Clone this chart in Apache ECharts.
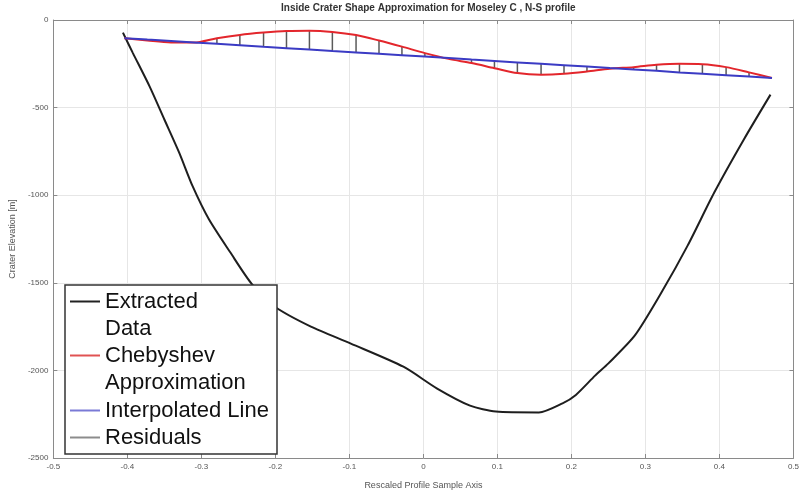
<!DOCTYPE html>
<html>
<head>
<meta charset="utf-8">
<script src="https://cdn.jsdelivr.net/npm/echarts@6/dist/echarts.min.js"></script>
<style>
  html, body { margin: 0; padding: 0; background: #fff; }
</style>
</head>
<body>
<div id="craterChart" style="width:802px;height:495px;"></div>
<script>
  // extracted crater profile (black)
  var profileX = [-0.406, -0.3925, -0.370, -0.350, -0.330, -0.312, -0.290, -0.261, -0.232, -0.200,
    -0.152, -0.098, -0.027, 0.018, 0.063, 0.098, 0.156, 0.188, 0.206, 0.232,
    0.250, 0.286, 0.322, 0.357, 0.393, 0.433, 0.469];
  var profileY = [-72, -189, -379, -568, -757, -947, -1136, -1326, -1506, -1638,
    -1750, -1847, -1979, -2102, -2201, -2235, -2240, -2188, -2140, -2030,
    -1960, -1799, -1553, -1288, -985, -682, -426];

  // sample positions of the approximation / residuals
  var sampleX = [-0.404, -0.373, -0.341, -0.310, -0.279, -0.248, -0.216, -0.185, -0.154, -0.123,
    -0.091, -0.060, -0.029, 0.002, 0.034, 0.065, 0.096, 0.127, 0.159, 0.190,
    0.221, 0.252, 0.284, 0.315, 0.346, 0.377, 0.409, 0.440, 0.471];
  var chebyshevY = [-104, -117, -128, -129, -104, -85, -72, -63, -61, -68,
    -86, -117, -152, -189, -222, -246, -275, -303, -312, -307,
    -294, -278, -269, -256, -250, -252, -269, -299, -331];
  var interpolatedY = [-104, -112, -120, -128, -136, -144, -153, -161, -169, -177,
    -185, -193, -201, -209, -217, -226, -234, -242, -250, -258,
    -266, -274, -282, -290, -299, -307, -315, -323, -331];

  var legendLabels = {
    'Extracted Data': 'Extracted\nData',
    'Chebyshev Approximation': 'Chebyshev\nApproximation'
  };

  var profileData = profileX.map(function (x, i) { return [x, profileY[i]]; });
  var chebData = sampleX.map(function (x, i) { return [x, chebyshevY[i]]; });
  var interpData = sampleX.map(function (x, i) { return [x, interpolatedY[i]]; });
  // vertical stems between the line and the approximation, broken by empty points
  var residualData = [];
  sampleX.forEach(function (x, i) {
    residualData.push([x, interpolatedY[i]], [x, chebyshevY[i]], [x, '-']);
  });

  var craterChart = echarts.init(document.getElementById('craterChart'));
  var axisGray = '#8a8a8a';
  var labelGray = '#555';
  var legendText = { fontFamily: 'Liberation Sans', fontSize: 22, lineHeight: 27, color: '#111' };

  var option = {
    animation: false,
    backgroundColor: '#fff',
    title: {
      text: 'Inside Crater Shape Approximation for Moseley C , N-S profile',
      left: 281,
      top: 0,
      padding: [3, 0, 0, 0],
      textStyle: { fontFamily: 'Liberation Sans', fontSize: 10, fontWeight: 'bold', color: '#333' }
    },
    grid: { left: 53, right: 2, top: 20, bottom: 35 },
    legend: [{
      // two-line entries: an empty first line keeps the icon on the first text line
      orient: 'vertical',
      left: 70,
      top: 261,
      padding: 0,
      itemGap: -27,
      itemWidth: 30,
      itemHeight: 2,
      icon: 'rect',
      z: 10,
      textStyle: legendText,
      formatter: function (name) { return '\n' + legendLabels[name]; },
      data: [
        { name: 'Extracted Data', itemStyle: { color: '#222' } },
        { name: 'Chebyshev Approximation', itemStyle: { color: '#e05252' } }
      ]
    }, {
      orient: 'vertical',
      left: 70,
      top: 397,
      padding: 0,
      itemGap: 0,
      itemWidth: 30,
      itemHeight: 2,
      icon: 'rect',
      z: 10,
      textStyle: legendText,
      data: [
        { name: 'Interpolated Line', itemStyle: { color: '#7a7ad6' } },
        { name: 'Residuals', itemStyle: { color: '#8c8c8c' } }
      ]
    }],
    graphic: [{
      type: 'rect',
      z: 5,
      shape: { x: 65, y: 285, width: 212, height: 169 },
      style: { fill: '#fff', stroke: '#333', lineWidth: 1.5 }
    }],
    xAxis: [{
      type: 'value',
      min: -0.5,
      max: 0.5,
      interval: 0.1,
      position: 'bottom',
      name: 'Rescaled Profile Sample Axis',
      nameLocation: 'middle',
      nameGap: 23,
      nameTextStyle: { fontFamily: 'Liberation Sans', fontSize: 9, color: labelGray },
      axisLine: { onZero: false, lineStyle: { color: axisGray } },
      axisTick: { inside: true, length: 4, lineStyle: { color: axisGray } },
      axisLabel: {
        fontFamily: 'Liberation Sans', fontSize: 8, color: labelGray, margin: 5,
        formatter: function (v) { return String(Math.round(v * 10) / 10); }
      },
      splitLine: { show: true, lineStyle: { color: '#e6e6e6' } }
    }, {
      type: 'value',
      min: -0.5,
      max: 0.5,
      interval: 0.1,
      position: 'top',
      axisLine: { onZero: false, lineStyle: { color: axisGray } },
      axisTick: { inside: true, length: 4, lineStyle: { color: axisGray } },
      axisLabel: { show: false },
      splitLine: { show: false }
    }],
    yAxis: [{
      type: 'value',
      min: -2500,
      max: 0,
      interval: 500,
      position: 'left',
      name: 'Crater Elevation [m]',
      nameLocation: 'middle',
      nameGap: 27,
      nameTextStyle: { fontFamily: 'Liberation Sans', fontSize: 9, color: labelGray },
      axisLine: { show: true, onZero: false, lineStyle: { color: axisGray } },
      axisTick: { show: true, inside: true, length: 4, lineStyle: { color: axisGray } },
      axisLabel: {
        fontFamily: 'Liberation Sans', fontSize: 8, color: labelGray, margin: 5,
        formatter: function (v) { return String(v); }
      },
      splitLine: { show: true, lineStyle: { color: '#e6e6e6' } }
    }, {
      type: 'value',
      min: -2500,
      max: 0,
      interval: 500,
      position: 'right',
      axisLine: { show: true, onZero: false, lineStyle: { color: axisGray } },
      axisTick: { show: true, inside: true, length: 4, lineStyle: { color: axisGray } },
      axisLabel: { show: false },
      splitLine: { show: false }
    }],
    series: [{
      name: 'Extracted Data',
      type: 'line',
      data: profileData,
      symbol: 'none',
      smooth: 0.25,
      color: '#1e1e1e',
      lineStyle: { width: 2, color: '#1e1e1e' },
      z: 2
    }, {
      name: 'Residuals',
      type: 'line',
      data: residualData,
      symbol: 'none',
      connectNulls: false,
      color: '#5a5a5a',
      lineStyle: { width: 1.5, color: '#5a5a5a' },
      z: 2
    }, {
      name: 'Chebyshev Approximation',
      type: 'line',
      data: chebData,
      symbol: 'none',
      smooth: 0.3,
      color: '#e3262c',
      lineStyle: { width: 2, color: '#e3262c' },
      z: 3
    }, {
      name: 'Interpolated Line',
      type: 'line',
      data: interpData,
      symbol: 'none',
      color: '#3b3bc4',
      lineStyle: { width: 2, color: '#3b3bc4' },
      z: 3
    }]
  };

  craterChart.setOption(option);
</script>
</body>
</html>
